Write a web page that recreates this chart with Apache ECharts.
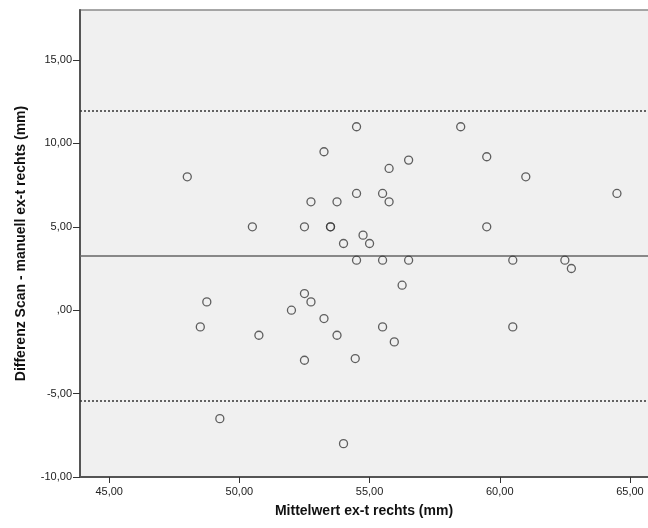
<!DOCTYPE html>
<html>
<head>
<meta charset="utf-8">
<script src="https://cdn.jsdelivr.net/npm/echarts@6/dist/echarts.min.js"></script>
<style>
html,body{margin:0;padding:0;background:#fff;overflow:hidden;}
#chart{width:648px;height:528px;}
</style>
</head>
<body>
<div id="chart"></div>
<script>
// Mean of both measurements (x) and difference Scan - manuell (y)
var meanValues = [48, 48.75, 48.5, 49.25, 50.5, 50.75, 52, 52.5, 52.5, 52.5, 52.75, 52.75, 53.25, 53.25, 53.5, 53.5, 53.75, 53.75, 54, 54, 54.5, 54.5, 54.5, 54.45, 54.75, 55, 55.5, 55.5, 55.5, 55.75, 55.75, 55.95, 56.25, 56.5, 56.5, 58.5, 59.5, 59.5, 60.5, 60.5, 61, 62.5, 62.75, 64.5];
var diffValues = [8, 0.5, -1, -6.5, 5, -1.5, 0, 5, 1, -3, 6.5, 0.5, 9.5, -0.5, 5, 5, 6.5, -1.5, 4, -8, 11, 7, 3, -2.9, 4.5, 4, 7, 3, -1, 8.5, 6.5, -1.9, 1.5, 9, 3, 11, 9.2, 5, 3, -1, 8, 3, 2.5, 7];
// Bias line and limits of agreement
var meanDiff = [3.26];
var limits = [11.95, -5.45];
var xTicks = [45, 50, 55, 60, 65];
var yTicks = [-10, -5, 0, 5, 10, 15];

var fmt = function (v) {
  if (Math.abs(v) < 1e-9) return ',00';
  return Number(v).toFixed(2).replace('.', ',');
};

var points = meanValues.map(function (m, i) { return [m, diffValues[i]]; });

var chart = echarts.init(document.getElementById('chart'), null, {renderer: 'canvas'});
var font = 'Arial, "Liberation Sans", sans-serif';
var xMin = 43.88, xMax = 66.0;
chart.setOption({
  backgroundColor: '#ffffff',
  animation: false,
  grid: {
    left: 80, top: 10, width: 576, height: 467,
    outerBoundsMode: 'none', containLabel: false,
    show: true, backgroundColor: '#F0F0F0', borderColor: '#8a8a8a', borderWidth: 1.5
  },
  xAxis: {
    type: 'value', min: xMin, max: xMax,
    name: 'Mittelwert ex-t rechts (mm)', nameLocation: 'middle', nameGap: 27,
    nameTextStyle: {fontFamily: font, fontSize: 14, fontWeight: 'bold', color: '#111', padding: [0, 8, 0, 0]},
    axisLine: {show: true, onZero: false, lineStyle: {color: '#555', width: 2}},
    axisTick: {show: true, length: 6, customValues: xTicks, lineStyle: {color: '#333', width: 1}},
    axisLabel: {customValues: xTicks, formatter: fmt, fontFamily: font, fontSize: 11, color: '#222', margin: 9},
    splitLine: {show: false}
  },
  yAxis: {
    type: 'value', min: -10, max: 18,
    name: 'Differenz Scan - manuell ex-t rechts (mm)', nameLocation: 'middle', nameGap: 52, nameRotate: 90,
    nameTextStyle: {fontFamily: font, fontSize: 14, fontWeight: 'bold', color: '#111'},
    axisLine: {show: true, onZero: false, lineStyle: {color: '#555', width: 2}},
    axisTick: {show: true, length: 7, customValues: yTicks, lineStyle: {color: '#333', width: 1}},
    axisLabel: {customValues: yTicks, formatter: fmt, fontFamily: font, fontSize: 11, color: '#222', margin: 8},
    splitLine: {show: false}
  },
  series: [{
    type: 'scatter',
    data: points,
    symbol: 'circle',
    symbolSize: 8,
    itemStyle: {color: 'rgba(0,0,0,0)', borderColor: '#3a3a3a', borderWidth: 1.3},
    z: 5,
    markLine: {
      silent: true, symbol: ['none', 'none'], label: {show: false},
      animation: false,
      data: [
        {yAxis: meanDiff[0], lineStyle: {color: '#666', width: 1.5, type: 'solid'}},
        {yAxis: limits[0], lineStyle: {color: '#333', width: 1.5, type: [2, 2]}},
        {yAxis: limits[1], lineStyle: {color: '#333', width: 1.5, type: [2, 2]}}
      ]
    }
  }]
});
</script>
</body>
</html>
